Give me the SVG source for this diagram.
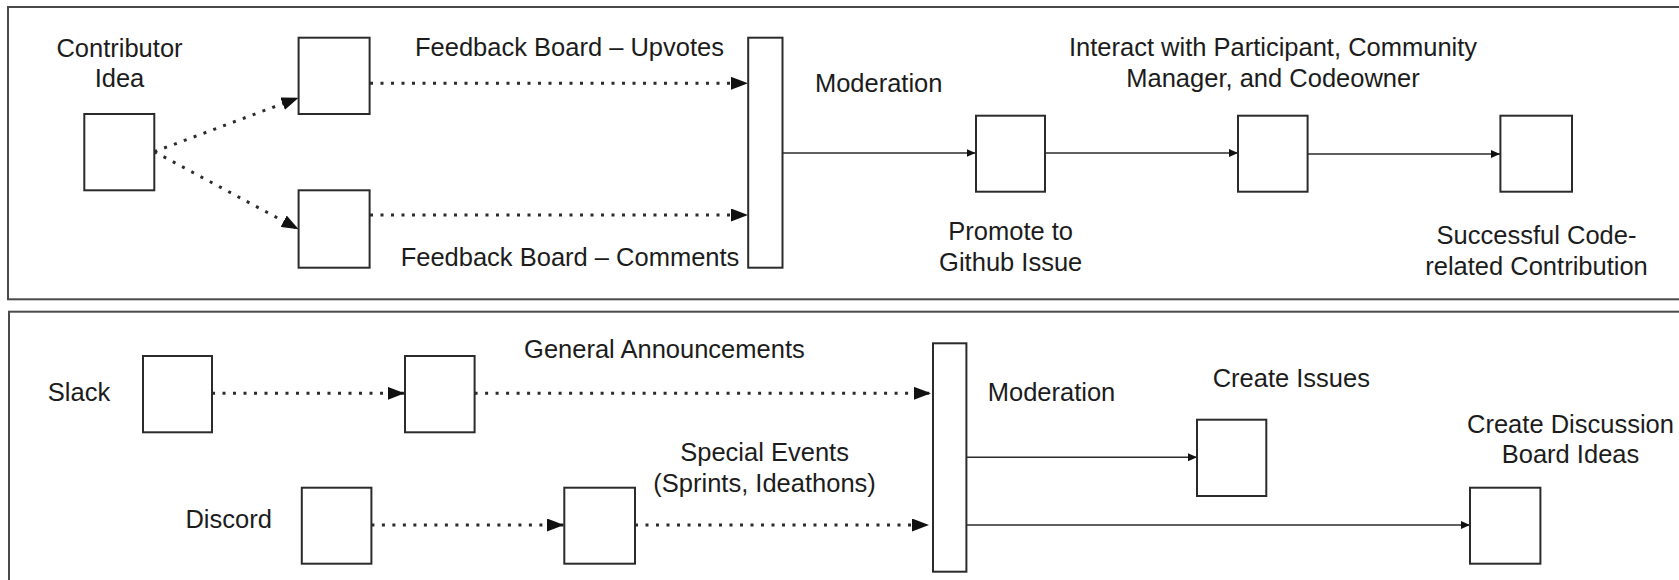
<svg xmlns="http://www.w3.org/2000/svg" width="1679" height="580" viewBox="0 0 1679 580">
  <style>
    .frame { fill: none; stroke: #4a4a4a; stroke-width: 2; }
    .box { fill: #ffffff; stroke: #2b2b2b; stroke-width: 2; }
    .lbl { font-family: "Liberation Sans", Arial, sans-serif; font-size: 25.5px; fill: #1c1c1c; text-anchor: middle; }
    .dot { fill: none; stroke: #2b2b2b; stroke-width: 3; stroke-dasharray: 3 7.5; }
    .sol { fill: none; stroke: #2b2b2b; stroke-width: 1.6; }
  </style>
  <defs>
    <marker id="bigArrow" markerUnits="userSpaceOnUse" markerWidth="18" markerHeight="13" refX="17" refY="6.5" orient="auto">
      <path d="M0,0 L17,6.5 L0,13 z" fill="#111"/>
    </marker>
    <marker id="smallArrow" markerUnits="userSpaceOnUse" markerWidth="10" markerHeight="8" refX="9" refY="4" orient="auto">
      <path d="M0,0 L9,4 L0,8 z" fill="#111"/>
    </marker>
  </defs>
  <rect width="1679" height="580" fill="#ffffff"/>

  <g id="panel-top"><rect class="frame" x="8" y="7" width="1680" height="292.3"/></g>
  <g id="panel-bottom"><rect class="frame" x="9" y="311.7" width="1680" height="300"/></g>

  <g id="connectors">
    <line class="dot" x1="154.3" y1="151.7" x2="298.6" y2="97.7" marker-end="url(#bigArrow)"/>
    <line class="dot" x1="154.3" y1="151.7" x2="298.6" y2="229.3" marker-end="url(#bigArrow)"/>
    <line class="dot" x1="370" y1="83.3" x2="748" y2="83.3" marker-end="url(#bigArrow)"/>
    <line class="dot" x1="370" y1="215" x2="748" y2="215" marker-end="url(#bigArrow)"/>
    <line class="sol" x1="782.5" y1="153" x2="975.5" y2="153" marker-end="url(#smallArrow)"/>
    <line class="sol" x1="1045" y1="153" x2="1238" y2="153" marker-end="url(#smallArrow)"/>
    <line class="sol" x1="1307.6" y1="154" x2="1500" y2="154" marker-end="url(#smallArrow)"/>

    <line class="dot" x1="212" y1="393.3" x2="404.6" y2="393.3" marker-end="url(#bigArrow)"/>
    <line class="dot" x1="474.6" y1="393.3" x2="931" y2="393.3" marker-end="url(#bigArrow)"/>
    <line class="dot" x1="371.4" y1="525" x2="564" y2="525" marker-end="url(#bigArrow)"/>
    <line class="dot" x1="635" y1="525" x2="929" y2="525" marker-end="url(#bigArrow)"/>
    <line class="sol" x1="966.4" y1="457.3" x2="1197" y2="457.3" marker-end="url(#smallArrow)"/>
    <line class="sol" x1="966.4" y1="525" x2="1470" y2="525" marker-end="url(#smallArrow)"/>
  </g>

  <g id="contributor-idea">
    <rect class="box" x="84.3" y="114" width="70" height="76.3"/>
    <text class="lbl" x="119.5" y="56.5">Contributor</text>
    <text class="lbl" x="119.5" y="87.3">Idea</text>
  </g>
  <g id="feedback-upvotes">
    <rect class="box" x="298.6" y="37.7" width="71" height="76.3"/>
    <text class="lbl" x="569.5" y="56">Feedback Board – Upvotes</text>
  </g>
  <g id="feedback-comments">
    <rect class="box" x="298.6" y="190.3" width="71" height="77.4"/>
    <text class="lbl" x="570" y="265.7">Feedback Board – Comments</text>
  </g>
  <g id="moderation-top">
    <rect class="box" x="748.2" y="37.7" width="34.3" height="230"/>
    <text class="lbl" x="878.7" y="91.7">Moderation</text>
  </g>
  <g id="github-issue">
    <rect class="box" x="976" y="115.7" width="69" height="76"/>
    <text class="lbl" x="1010.7" y="240">Promote to</text>
    <text class="lbl" x="1010.7" y="270.7">Github Issue</text>
  </g>
  <g id="interact">
    <rect class="box" x="1238" y="115.7" width="69.6" height="76"/>
    <text class="lbl" x="1273" y="56">Interact with Participant, Community</text>
    <text class="lbl" x="1273" y="87.3">Manager, and Codeowner</text>
  </g>
  <g id="successful-contribution">
    <rect class="box" x="1500.4" y="115.7" width="71.6" height="76"/>
    <text class="lbl" x="1536.5" y="244.3">Successful Code-</text>
    <text class="lbl" x="1536.5" y="275">related Contribution</text>
  </g>

  <g id="slack">
    <rect class="box" x="143" y="356" width="69" height="76.3"/>
    <text class="lbl" x="79" y="401">Slack</text>
  </g>
  <g id="general-announcements">
    <rect class="box" x="405" y="356" width="69.6" height="76.3"/>
    <text class="lbl" x="664.4" y="358.3">General Announcements</text>
  </g>
  <g id="discord">
    <rect class="box" x="301.8" y="487.7" width="69.6" height="76"/>
    <text class="lbl" x="228.6" y="528.3">Discord</text>
  </g>
  <g id="special-events">
    <rect class="box" x="564.3" y="487.7" width="70.7" height="76"/>
    <text class="lbl" x="764.6" y="460.7">Special Events</text>
    <text class="lbl" x="764.6" y="491.7">(Sprints, Ideathons)</text>
  </g>
  <g id="moderation-bottom">
    <rect class="box" x="933" y="343.3" width="33.4" height="228.4"/>
    <text class="lbl" x="1051.5" y="401">Moderation</text>
  </g>
  <g id="create-issues">
    <rect class="box" x="1197" y="419.7" width="69.3" height="76.3"/>
    <text class="lbl" x="1291.3" y="386.7">Create Issues</text>
  </g>
  <g id="discussion-ideas">
    <rect class="box" x="1470" y="487.7" width="70.4" height="76"/>
    <text class="lbl" x="1570.5" y="433.3">Create Discussion</text>
    <text class="lbl" x="1570.5" y="463.3">Board Ideas</text>
  </g>
</svg>
